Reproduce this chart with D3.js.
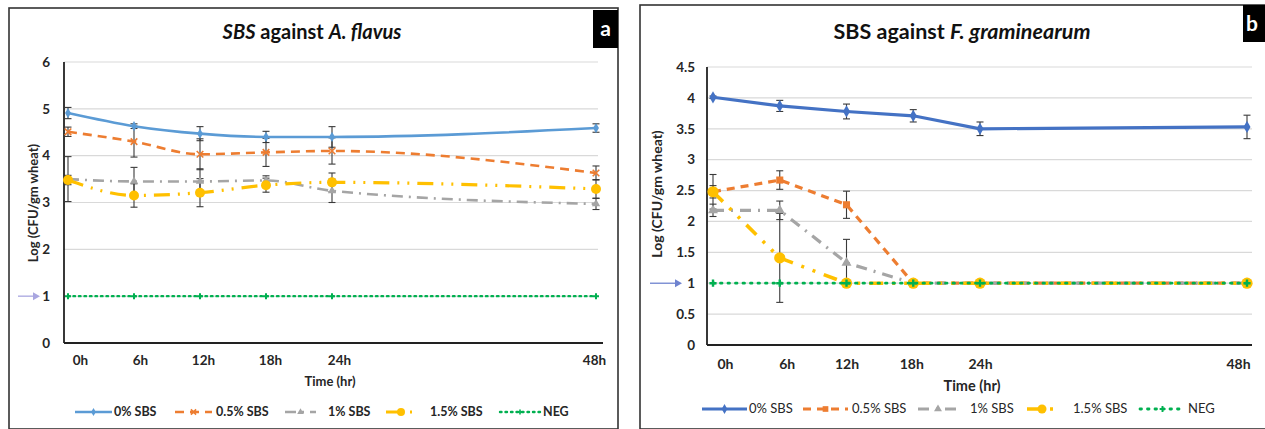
<!DOCTYPE html>
<html><head><meta charset="utf-8">
<script src="https://cdn.jsdelivr.net/npm/d3@7"></script>
<style>
html,body{margin:0;padding:0;background:#fff;}
svg{display:block;font-family:Lato, "Open Sans", sans-serif;}
</style></head>
<body><svg id="c" width="1265" height="429"></svg>
<script>
// ---------- data ----------
const hours = [0, 6, 12, 18, 24, 48];
const xLabels = ["0h", "6h", "12h", "18h", "24h", "48h"];
const seriesNames = ["0% SBS", "0.5% SBS", "1% SBS", "1.5% SBS", "NEG"];

// Panel a: SBS against A. flavus
const aTicks = [0, 1, 2, 3, 4, 5, 6];
const a0 = [4.91, 4.63, 4.47, 4.40, 4.40, 4.59];
const a05 = [4.51, 4.30, 4.03, 4.07, 4.10, 3.63];
const a1 = [3.50, 3.45, 3.45, 3.47, 3.25, 2.97];
const a15 = [3.48, 3.15, 3.21, 3.37, 3.43, 3.29];
const aNeg = [1, 1, 1, 1, 1, 1];
const a0Err = [0.12, 0.05, 0.15, 0.12, 0.22, 0.09];
const a05Err = [0.10, 0.33, 0.33, 0.30, 0.28, 0.15];
const a1Err = [0.48, 0.30, 0.27, 0.10, 0.25, 0.12];
const a15Err = [0.10, 0.25, 0.30, 0.15, 0.20, 0.20];

// Panel b: SBS against F. graminearum
const bTicks = [0, 0.5, 1, 1.5, 2, 2.5, 3, 3.5, 4, 4.5];
const b0 = [4.01, 3.87, 3.78, 3.71, 3.50, 3.53];
const b05 = [2.48, 2.67, 2.27, 1.00, 1.00, 1.00];
const b1 = [2.18, 2.18, 1.33, 1.00, 1.00, 1.00];
const b15 = [2.48, 1.41, 1.00, 1.00, 1.00, 1.00];
const bNeg = [1, 1, 1, 1, 1, 1];
const b0Err = [0.02, 0.09, 0.12, 0.10, 0.11, 0.19];
const b05Err = [0.28, 0.15, 0.22, 0, 0, 0];
const b1Err = [0.10, 0.15, 0.38, 0, 0, 0];
const b15Err = [0.10, 0.72, 0, 0, 0, 0];

// ---------- drawing ----------
const svg = d3.select("#c");
const GREEN = "#00b050", ORANGE = "#ed7d31", GRAY = "#a5a5a5", YELLOW = "#ffc000";

function marker(g, type, x, y, color, s) {
  if (type === "diamond") {
    g.append("path").attr("d", d3.symbol(d3.symbolDiamond, s * s * 1.2)()).attr("transform", `translate(${x},${y})`).attr("fill", color);
  } else if (type === "x") {
    g.append("path").attr("d", d3.symbol(d3.symbolX, s * s * 1.2)()).attr("transform", `translate(${x},${y})`).attr("fill", "none").attr("stroke", color).attr("stroke-width", 1.6);
  } else if (type === "square") {
    g.append("path").attr("d", d3.symbol(d3.symbolSquare, s * s * 1.4)()).attr("transform", `translate(${x},${y})`).attr("fill", color);
  } else if (type === "triangle") {
    g.append("path").attr("d", d3.symbol(d3.symbolTriangle, s * s * 1.2)()).attr("transform", `translate(${x},${y})`).attr("fill", color);
  } else if (type === "circle") {
    g.append("circle").attr("cx", x).attr("cy", y).attr("r", s / 1.6).attr("fill", color);
  } else if (type === "plus") {
    g.append("path").attr("d", d3.symbol(d3.symbolCross, s * s * 0.8)()).attr("transform", `translate(${x},${y})`).attr("fill", color);
  }
}

function panel(cfg) {
  const g = svg.append("g");
  // frame
  g.append("rect").attr("x", cfg.frame[0]).attr("y", cfg.frame[1]).attr("width", cfg.frame[2]).attr("height", cfg.frame[3])
    .attr("fill", "#fff").attr("stroke", "#333").attr("stroke-width", 1.6);
  // letter tag
  g.append("rect").attr("x", cfg.tag[0]).attr("y", cfg.tag[1]).attr("width", cfg.tag[2]).attr("height", cfg.tag[3]).attr("fill", "#000");
  g.append("text").attr("x", cfg.tag[0] + cfg.tag[2] / 2 + (cfg.tagDx || 0)).attr("y", cfg.tag[1] + cfg.tag[3] / 2 + 7)
    .attr("text-anchor", "middle").attr("fill", "#fff").attr("font-weight", "bold").attr("font-size", 21).text(cfg.letter);

  const x = d3.scaleLinear().domain([0, 48]).range(cfg.xr);
  const y = d3.scaleLinear().domain([0, cfg.yMax]).range(cfg.yr);

  // gridlines
  g.append("g").selectAll("line").data(cfg.ticks).join("line")
    .attr("x1", cfg.axisX).attr("x2", cfg.gridEnd).attr("y1", d => y(d)).attr("y2", d => y(d))
    .attr("stroke", "#d9d9d9").attr("stroke-width", 1.2);

  // y axis labels
  const ya = g.append("g").attr("transform", `translate(${cfg.axisX},0)`)
    .call(d3.axisLeft(y).tickValues(cfg.ticks).tickSize(0).tickPadding(cfg.tickPad).tickFormat(d3.format("~g")));
  ya.select(".domain").remove();
  ya.selectAll("text").attr("font-size", cfg.tickFont).attr("font-weight", "bold").attr("fill", "#262626").attr("font-family", "Lato, sans-serif");

  // x axis labels
  const xa = g.append("g").attr("transform", `translate(0,${cfg.yr[0]})`)
    .call(d3.axisBottom(x).tickValues(hours).tickSize(0).tickPadding(cfg.xPad).tickFormat((d, i) => xLabels[i]));
  xa.select(".domain").remove();
  xa.selectAll("text").attr("font-size", cfg.xTickFont).attr("font-weight", "bold").attr("fill", "#262626")
    .attr("font-family", "Lato, sans-serif").attr("dx", (d, i) => cfg.xLabelDx[i]);

  // axis lines
  g.append("line").attr("x1", cfg.axisX).attr("x2", cfg.axisX).attr("y1", cfg.yr[1]).attr("y2", cfg.yr[0]).attr("stroke", "#222").attr("stroke-width", 1.8);
  g.append("line").attr("x1", cfg.axisX).attr("x2", cfg.axisEnd).attr("y1", cfg.yr[0]).attr("y2", cfg.yr[0]).attr("stroke", "#222").attr("stroke-width", 1.8);

  // titles
  const t = g.append("text").attr("x", cfg.titleX).attr("y", cfg.titleY).attr("text-anchor", "middle")
    .attr("font-size", cfg.titleFont).attr("font-weight", "bold").attr("fill", "#111");
  cfg.title.forEach(p => t.append("tspan").attr("font-style", p[1] ? "italic" : "normal").text(p[0]));
  g.append("text").attr("x", cfg.xTitle[0]).attr("y", cfg.xTitle[1]).attr("text-anchor", "middle")
    .attr("font-size", cfg.axTitleFont).attr("font-weight", "bold").attr("fill", "#262626").text("Time (hr)");
  g.append("text").attr("transform", `translate(${cfg.yTitle[0]},${cfg.yTitle[1]}) rotate(-90)`).attr("text-anchor", "middle")
    .attr("font-size", cfg.yTitleFont).attr("font-weight", "bold").attr("fill", "#262626").text("Log (CFU/gm wheat)");

  // arrow near 1
  const ay = y(1);
  g.append("line").attr("x1", cfg.arrow[0]).attr("x2", cfg.arrow[1] - 5).attr("y1", ay).attr("y2", ay).attr("stroke", cfg.arrowColor).attr("stroke-width", 1.3);
  g.append("path").attr("d", `M${cfg.arrow[1]},${ay} l-7,-4 l0,8 z`).attr("fill", cfg.arrowColor);

  const lineGen = d3.line().x((d, i) => x(hours[i])).y(d => y(d)).curve(cfg.curve);

  // error bars (drawn first)
  cfg.series.forEach(s => {
    if (!s.err) return;
    s.vals.forEach((v, i) => {
      const e = s.err[i];
      if (!e) return;
      const cx = x(hours[i]);
      const eg = g.append("g").attr("stroke", "#3a3a3a").attr("stroke-width", 1.1);
      eg.append("line").attr("x1", cx).attr("x2", cx).attr("y1", y(v - e)).attr("y2", y(v + e));
      eg.append("line").attr("x1", cx - 3.5).attr("x2", cx + 3.5).attr("y1", y(v - e)).attr("y2", y(v - e));
      eg.append("line").attr("x1", cx - 3.5).attr("x2", cx + 3.5).attr("y1", y(v + e)).attr("y2", y(v + e));
    });
  });

  // series lines + markers
  cfg.series.forEach(s => {
    g.append("path").datum(s.vals).attr("d", lineGen).attr("fill", "none").attr("stroke", s.color)
      .attr("stroke-width", s.w).attr("stroke-dasharray", s.dash).attr("stroke-linecap", s.cap || "butt");
    s.vals.forEach((v, i) => marker(g, s.mk, x(hours[i]), y(v), s.color, s.ms));
  });

  // legend
  cfg.series.forEach((s, k) => {
    const l = cfg.legendLines[k], ly = cfg.legendY;
    g.append("line").attr("x1", l[0]).attr("x2", l[1]).attr("y1", ly).attr("y2", ly)
      .attr("stroke", s.color).attr("stroke-width", s.w).attr("stroke-dasharray", s.dash).attr("stroke-linecap", s.cap || "butt");
    marker(g, s.mk, (l[0] + l[1]) / 2, ly, s.color, s.ms * cfg.legendMk);
    g.append("text").attr("x", cfg.legendText[k]).attr("y", ly + 4).attr("font-size", cfg.legendFont)
      .attr("font-weight", cfg.legendWeight).attr("fill", "#262626").text(seriesNames[k]);
  });
}

panel({
  frame: [9, 8, 609, 421], tag: [593, 10, 25, 38], letter: "a",
  xr: [68, 596], yr: [343, 62], yMax: 6, ticks: aTicks, axisX: 64, gridEnd: 598, axisEnd: 603,
  tickPad: 14, tickFont: 13.5, xTickFont: 13.5, xPad: 12, xLabelDx: [12, 6, 3, 4, 7, -2],
  title: [["SBS", true], [" against ", false], ["A. flavus", true]], titleX: 312, titleY: 39, titleFont: 20,
  xTitle: [330, 386], axTitleFont: 13, yTitle: [38, 203], yTitleFont: 13,
  arrow: [18, 40], arrowColor: "#a9a6e0",
  curve: d3.curveMonotoneX,
  series: [
    { vals: a0, err: a0Err, color: "#5b9bd5", w: 2.6, dash: null, mk: "diamond", ms: 5 },
    { vals: a05, err: a05Err, color: ORANGE, w: 2.6, dash: "9,6", mk: "x", ms: 5 },
    { vals: a1, err: a1Err, color: GRAY, w: 2.6, dash: "11,6,2,6", mk: "triangle", ms: 5 },
    { vals: a15, err: a15Err, color: YELLOW, w: 3.2, dash: "16,8,2,8,2,8", mk: "circle", ms: 8 },
    { vals: aNeg, err: null, color: GREEN, w: 2.4, dash: "1.5,4", cap: "round", mk: "plus", ms: 5 }
  ],
  legendLines: [[75, 112], [175, 212], [285, 316], [386, 416], [500, 540]],
  legendText: [114, 216, 328, 430, 543], legendY: 412, legendMk: 0.8,
  legendFont: 12.5, legendWeight: "bold"
});

panel({
  frame: [640, 5, 640, 424], tag: [1243, 5, 30, 37], letter: "b", tagDx: -6,
  xr: [713, 1247], yr: [345, 67], yMax: 4.5, ticks: bTicks, axisX: 707, gridEnd: 1252, axisEnd: 1252,
  tickPad: 12, tickFont: 13.5, xTickFont: 14, xPad: 14, xLabelDx: [12, 7, 0, -2, 0, -9],
  title: [["SBS against ", false], ["F. graminearum", true]], titleX: 962, titleY: 39, titleFont: 21.5,
  xTitle: [972, 391], axTitleFont: 14.5, yTitle: [662, 194], yTitleFont: 14,
  arrow: [650, 682], arrowColor: "#6f83cf",
  curve: d3.curveLinear,
  series: [
    { vals: b0, err: b0Err, color: "#4472c4", w: 3.2, dash: null, mk: "diamond", ms: 6 },
    { vals: b05, err: b05Err, color: ORANGE, w: 3.2, dash: "8,6", mk: "square", ms: 6 },
    { vals: b1, err: b1Err, color: GRAY, w: 3.2, dash: "11,7,2,7", mk: "triangle", ms: 6 },
    { vals: b15, err: b15Err, color: YELLOW, w: 3.6, dash: "14,9,3,9,3,9", mk: "circle", ms: 9 },
    { vals: bNeg, err: null, color: GREEN, w: 2.8, dash: "1.5,6", cap: "round", mk: "plus", ms: 6 }
  ],
  legendLines: [[702, 747], [803, 848], [918, 958], [1027, 1057], [1140, 1185]],
  legendText: [749, 852, 970, 1073, 1188], legendY: 409, legendMk: 0.8,
  legendFont: 13, legendWeight: "normal"
});
</script>
</body></html>
